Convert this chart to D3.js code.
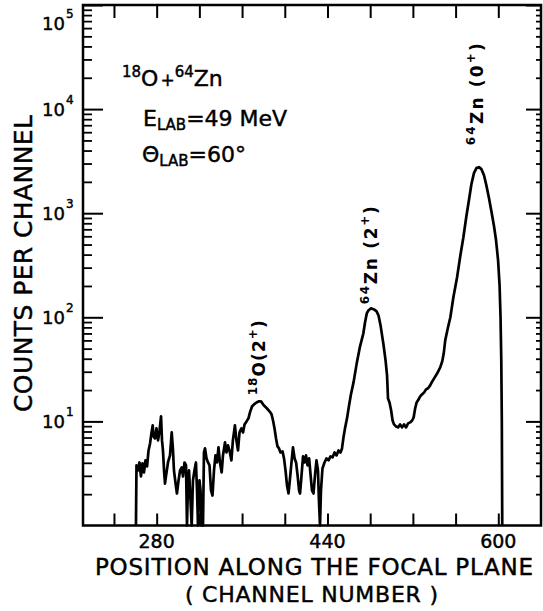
<!DOCTYPE html>
<html>
<head>
<meta charset="utf-8">
<script src="https://cdn.jsdelivr.net/npm/d3@7"></script>
<style>
  body { margin: 0; background: #fff; }
  svg { display: block; }
  text { font-family: "DejaVu Sans", "Liberation Sans", sans-serif; fill: #000; stroke: #000; stroke-width: 0.45px; }
</style>
</head>
<body>
<svg id="chart" width="543" height="611"></svg>
<script>
// Focal-plane position spectrum, 18O + 64Zn at 49 MeV, theta_lab = 60 deg
const channel = [
  260.6, 261.1, 262.5, 263.9, 265.3, 266.7, 268.1, 269.5, 271.0, 272.4,
  273.8, 275.2, 276.3, 277.0, 278.4, 279.8, 281.3, 282.7, 284.1, 285.0,
  285.9, 286.9, 287.8, 288.7, 290.6, 292.5, 294.1, 295.3, 296.2, 297.6,
  299.0, 300.5, 301.9, 303.5, 304.7, 306.1, 307.5, 308.4, 309.4, 310.3,
  311.7, 312.8, 314.0, 315.4, 316.8, 317.8, 318.7, 320.1, 321.1, 322.2,
  323.4, 324.3, 325.3, 326.7, 328.1, 329.5, 330.9, 332.3, 333.7, 335.1,
  336.5, 337.9, 339.3, 340.9, 342.1, 344.0, 345.4, 346.8, 348.6, 350.0,
  351.4, 353.3, 354.7, 356.2, 357.6, 359.4, 360.9, 362.3, 364.2, 366.0,
  367.4, 369.3, 371.2, 373.5, 375.9, 377.7, 379.6, 381.5, 383.4, 385.7,
  387.6, 389.0, 390.4, 391.8, 393.2, 394.6, 396.0, 397.9, 399.3, 400.7,
  402.1, 403.5, 404.9, 406.3, 407.7, 409.2, 410.6, 412.0, 413.4, 414.3,
  415.7, 417.1, 418.5, 419.9, 421.3, 422.8, 424.2, 425.5, 426.9, 428.3,
  429.7, 431.1, 432.0, 433.0, 433.9, 435.3, 437.2, 439.1, 441.0, 442.8,
  444.7, 446.6, 448.5, 450.3, 452.2, 453.6, 455.0, 456.4, 458.3, 460.2,
  462.0, 464.4, 467.4, 470.5, 473.6, 475.2, 476.8, 478.5, 480.8, 483.6,
  486.0, 487.8, 489.7, 492.3, 494.4, 495.8, 496.7, 498.1, 499.6, 501.0,
  502.3, 504.2, 506.1, 508.0, 509.9, 511.7, 513.6, 515.5, 517.4, 519.3,
  520.7, 522.1, 523.5, 525.4, 526.8, 528.7, 530.6, 532.3, 534.2, 536.2,
  538.1, 539.9, 542.8, 545.6, 547.5, 548.9, 550.3, 552.7, 555.1, 557.9,
  561.4, 564.5, 567.3, 570.1, 572.5, 574.8, 577.2, 579.5, 581.9, 584.2,
  586.6, 589.0, 591.3, 593.7, 596.0, 597.9, 599.8, 601.2, 602.1, 602.8,
  603.3, 603.7
];
const counts = [
  1, 3.78, 3.38, 4.03, 2.96, 3.95, 3.23, 4.22, 3.69, 5.26,
  6.14, 7.84, 9.16, 7.17, 6.86, 8.57, 6.57, 8.19, 11.2, 6.57,
  5.26, 3.38, 2.53, 2.96, 4.03, 4.71, 7.84, 5.26, 3.38, 2.59,
  2.03, 2.71, 3.38, 3.61, 2.96, 4.03, 3.78, 1, 2.71, 3.38,
  1.74, 1, 2.71, 3.38, 4.03, 2.17, 1, 2.71, 2.17, 1,
  1, 5.03, 5.50, 4.41, 4.03, 3.78, 2.17, 1.94, 3.38, 4.71,
  4.03, 5.62, 4.03, 3.23, 4.71, 6.28, 5.03, 5.88, 5.03, 4.22,
  6.57, 9.16, 6.57, 5.26, 7.84, 8.57, 7.84, 9.36, 10.0, 10.7,
  12.2, 13.9, 14.6, 15.2, 15.6, 15.6, 14.6, 13.9, 13.3, 12.5,
  11.7, 10.2, 8.57, 6.86, 5.75, 5.50, 5.03, 5.15, 4.41, 3.38,
  2.42, 2.03, 2.83, 4.03, 5.62, 4.41, 4.03, 3.03, 2.17, 2.03,
  3.03, 4.61, 4.03, 4.71, 3.78, 4.41, 3.03, 2.17, 2.03, 3.03,
  4.22, 3.38, 1.74, 1, 2.17, 3.53, 4.03, 4.41, 4.22, 4.61,
  4.51, 5.03, 4.71, 5.26, 5.03, 5.50, 7.02, 8.57, 10.7, 14.2,
  18.2, 23.7, 36.1, 52.6, 70.2, 89.5, 109, 117, 122, 119,
  114, 104, 83.7, 56.2, 38.6, 27.7, 16.6, 15.2, 12.8, 10.2,
  9.36, 8.95, 8.76, 9.36, 8.76, 9.36, 8.76, 9.57, 9.78, 10.2,
  10.9, 13.3, 15.2, 16.3, 17.4, 18.2, 19.0, 20.3, 20.8, 22.2,
  24.2, 25.9, 29.0, 33.0, 37.8, 45.1, 60.1, 78.4, 100, 155,
  243, 395, 588, 936, 1334, 1900, 2425, 2710, 2768, 2649,
  2318, 1818, 1393, 1023, 750, 549, 353, 203, 100, 38.6,
  10.2, 1
];

const xTickValues = [240, 280, 320, 360, 400, 440, 480, 520, 560, 600];
const xTickLabels = [280, 440, 600];
const yExponents = [1, 2, 3, 4, 5];
const yMinorFactors = [2, 3, 4, 5, 6, 7, 8, 9];

// peak identifications: [text piece, superscript flag]
const peakNames = [
  { channel: 376.8, count: 15.6, parts: [["18", 1], ["O(2", 0], ["+", 1], [")", 0]] },
  { channel: 480.8, count: 122,  parts: [["64", 1], ["Zn (2", 0], ["+", 1], [")", 0]] },
  { channel: 581.9, count: 2768, parts: [["64", 1], ["Zn (0", 0], ["+", 1], [")", 0]] }
];

const svg = d3.select("#chart");

const x = d3.scaleLinear().domain([211, 640]).range([83, 541]);
const y = d3.scaleLog().domain([1, 1e5]).range([525.5, 5]);

const majors = yExponents.map(e => Math.pow(10, e));
const minors = [];
[1, 10, 100, 1000, 10000].forEach(d => yMinorFactors.forEach(m => minors.push(d * m)));

function styleAxis(g, w) {
  g.select(".domain").remove();
  g.selectAll("line").attr("stroke", "#000").attr("stroke-width", w);
  g.selectAll("text").remove();
}

// left axis ticks (pointing inward)
svg.append("g").attr("transform", `translate(${x(211)},0)`)
  .call(d3.axisLeft(y).tickValues(majors).tickSize(-20))
  .call(g => styleAxis(g, 2));
svg.append("g").attr("transform", `translate(${x(211)},0)`)
  .call(d3.axisLeft(y).tickValues(minors).tickSize(-9))
  .call(g => styleAxis(g, 1.8));

// right axis ticks
svg.append("g").attr("transform", `translate(${x(640)},0)`)
  .call(d3.axisRight(y).tickValues(majors).tickSize(-15))
  .call(g => styleAxis(g, 2));
svg.append("g").attr("transform", `translate(${x(640)},0)`)
  .call(d3.axisRight(y).tickValues(minors).tickSize(-5))
  .call(g => styleAxis(g, 1.8));

// bottom and top ticks
svg.append("g").attr("transform", `translate(0,${y(1)})`)
  .call(d3.axisBottom(x).tickValues(xTickValues).tickSize(-12))
  .call(g => styleAxis(g, 2));
svg.append("g").attr("transform", `translate(0,${y(1e5)})`)
  .call(d3.axisTop(x).tickValues(xTickValues).tickSize(-13))
  .call(g => styleAxis(g, 2));

// frame
svg.append("rect")
  .attr("x", x(211)).attr("y", y(1e5))
  .attr("width", x(640) - x(211)).attr("height", y(1) - y(1e5))
  .attr("fill", "none").attr("stroke", "#000").attr("stroke-width", 2.5);

// x tick labels
svg.append("g").selectAll("text").data(xTickLabels).join("text")
  .attr("x", d => x(d)).attr("y", 548)
  .attr("text-anchor", "middle").attr("font-size", 19)
  .text(d => d);

// y tick labels 10^n
const yl = svg.append("g").selectAll("text").data(yExponents).join("text")
  .attr("x", 42)
  .attr("y", d => d === 5 ? y(1e5) + 25 : y(Math.pow(10, d)) + 7)
  .attr("font-size", 18);
yl.append("tspan").text("10");
yl.append("tspan").attr("font-size", 12).attr("dx", 1).attr("dy", -12).text(d => d);

// spectrum
const pts = channel.map((c, i) => [c, counts[i]]);
svg.append("path")
  .datum(pts)
  .attr("fill", "none")
  .attr("stroke", "#000")
  .attr("stroke-width", 2.7)
  .attr("stroke-linejoin", "round")
  .attr("d", d3.line().x(d => x(d[0])).y(d => y(d[1])));

// peak labels, written upward
const labelOffsets = [[5, -6, 75], [6, -4, 98], [4, -22, 102]];
peakNames.forEach((p, i) => {
  const [dx, dy, len] = labelOffsets[i];
  const t = svg.append("text")
    .attr("transform", `translate(${x(p.channel) + dx},${y(p.count) + dy}) rotate(-90)`)
    .attr("font-size", 17)
    .attr("font-weight", "bold")
    .style("stroke-width", "0px")
    .attr("textLength", len)
    .attr("lengthAdjust", "spacing");
  let sup = false;
  p.parts.forEach(([s, isSup]) => {
    const ts = t.append("tspan").text(s);
    if (isSup && !sup) { ts.attr("font-size", 12).attr("dy", -8); sup = true; }
    else if (!isSup && sup) { ts.attr("dy", 8); sup = false; }
    else if (isSup) ts.attr("font-size", 12);
  });
});

// reaction annotation
const ann = svg.append("g").attr("font-size", 22);
const l1 = ann.append("text").attr("x", 122).attr("y", 86);
l1.append("tspan").attr("font-size", 15).attr("dy", -9).text("18");
l1.append("tspan").attr("dy", 9).text("O");
l1.append("tspan").attr("font-size", 17).attr("dx", 2).text("+");
l1.append("tspan").attr("font-size", 15).attr("dy", -9).text("64");
l1.append("tspan").attr("dy", 9).text("Zn");

const l2 = ann.append("text").attr("x", 143).attr("y", 126);
l2.append("tspan").text("E");
l2.append("tspan").attr("font-size", 15).attr("dy", 4).text("LAB");
l2.append("tspan").attr("dy", -4).text("=49 MeV");

const l3 = ann.append("text").attr("x", 142).attr("y", 162);
l3.append("tspan").text("\u0398");
l3.append("tspan").attr("font-size", 15).attr("dy", 4).text("LAB");
l3.append("tspan").attr("dy", -4).text("=60\u00b0");

// axis titles
svg.append("text")
  .attr("transform", "translate(32,412) rotate(-90)")
  .attr("font-size", 25)
  .attr("textLength", 297).attr("lengthAdjust", "spacing")
  .text("COUNTS PER CHANNEL");

svg.append("text")
  .attr("x", 95).attr("y", 575)
  .attr("font-size", 23)
  .attr("textLength", 438).attr("lengthAdjust", "spacing")
  .text("POSITION ALONG THE FOCAL PLANE");

svg.append("text")
  .attr("x", 185).attr("y", 602)
  .attr("font-size", 22)
  .attr("textLength", 253).attr("lengthAdjust", "spacing")
  .text("( CHANNEL NUMBER )");
</script>
</body>
</html>
